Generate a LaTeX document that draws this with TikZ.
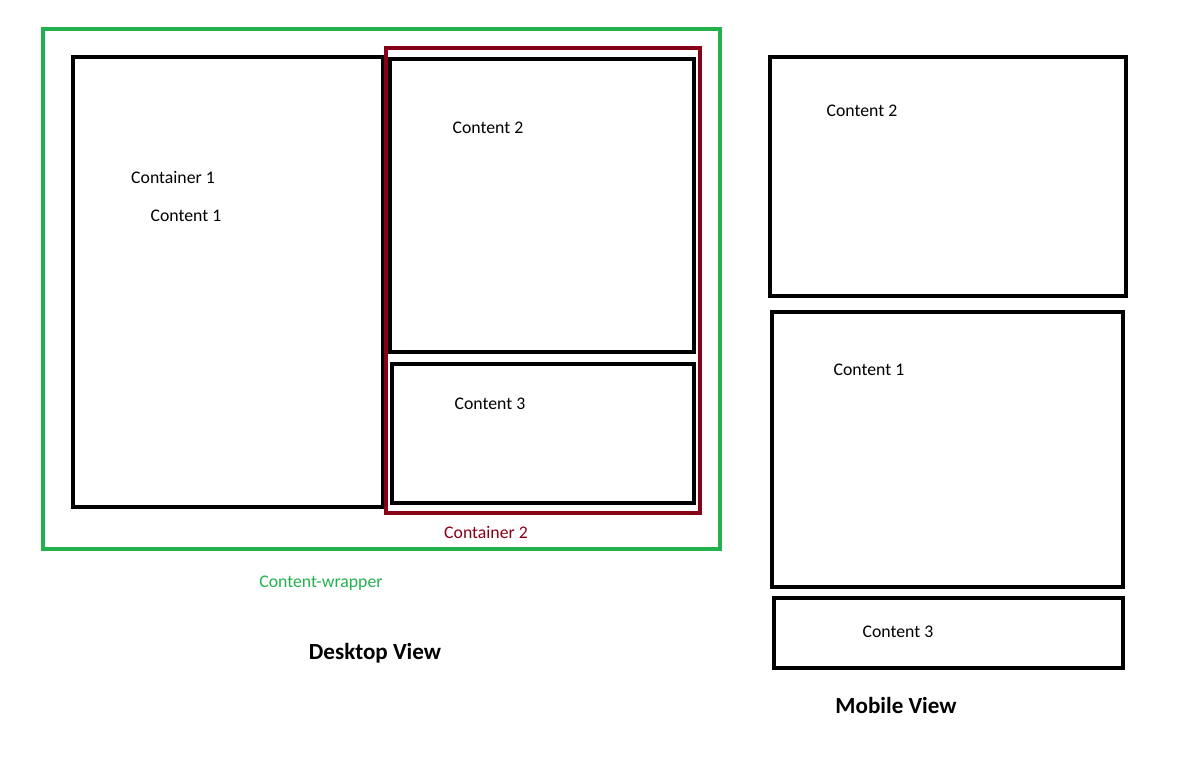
\documentclass[tikz,border=0pt]{standalone}
\usepackage{fontspec}
\setmainfont{Carlito}
\usepackage{xcolor}
\definecolor{wrapgreen}{RGB}{34,177,76}
\definecolor{boxred}{RGB}{136,0,21}

\begin{document}
\begin{tikzpicture}[x=0.75pt, y=-0.75pt, font=\fontsize{13.3}{16}\selectfont,
  box/.style={draw=black, line width=3.6pt},
  heading/.style={font=\fontsize{17.3}{20}\selectfont\bfseries}]
  \useasboundingbox (0,0) rectangle (1183,774);
  \draw[wrapgreen, line width=3.2pt] (43,29) rectangle (720,549);
  \draw[box] (73,57) rectangle (383,507);
  \draw[boxred, line width=3.2pt] (386,48) rectangle (700,513);
  \draw[box] (390,59) rectangle (694,352);
  \draw[box] (392,364) rectangle (694,503);
  \node (cont1) at (173,177) {Container 1};
  \node (desk1) at (186,216) {Content 1};
  \node (desk2) at (488,128) {Content 2};
  \node (desk3) at (490,404) {Content 3};
  \node[boxred] (cont2) at (486,532) {Container 2};
  \node[wrapgreen] (wrap) at (321,583) {Content-wrapper};
  \node[heading] (desktop) at (375,653) {Desktop View};
  \draw[box] (770,57) rectangle (1126,296);
  \draw[box] (772,312) rectangle (1123,587);
  \draw[box] (774,598) rectangle (1123,668);
  \node (mob2) at (862,111) {Content 2};
  \node (mob1) at (869,370) {Content 1};
  \node (mob3) at (898,632) {Content 3};
  \node[heading] (mobile) at (896,705) {Mobile View};
\end{tikzpicture}
\end{document}
